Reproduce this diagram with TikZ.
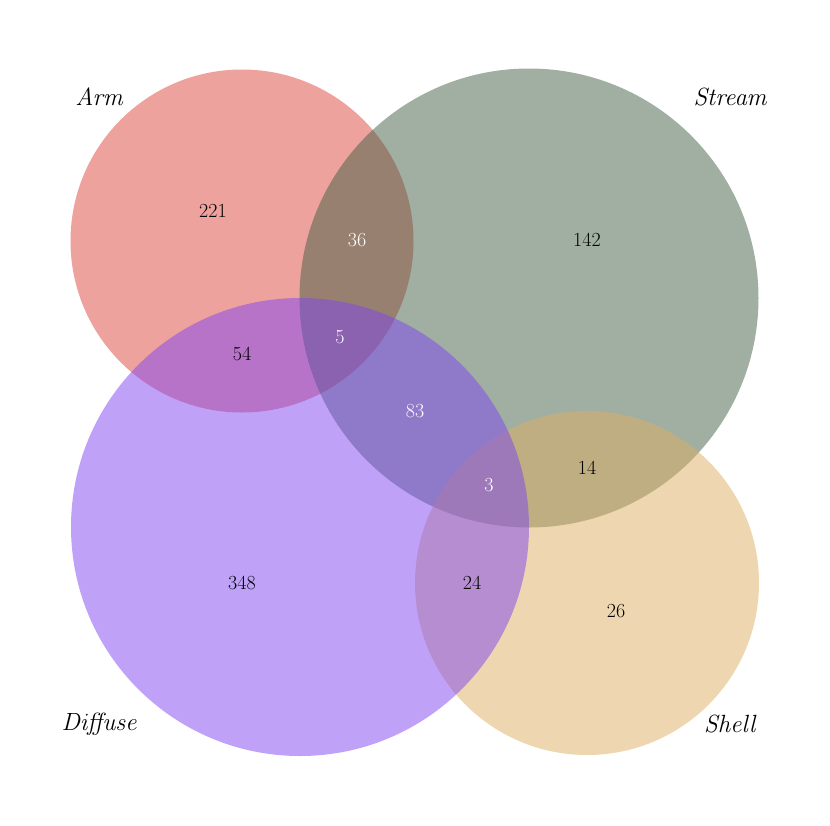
\documentclass[tikz,border=0pt]{standalone}
\usepackage{tikz}
\definecolor{armc}{RGB}{221,69,59}
\definecolor{streamc}{RGB}{65,95,69}
\definecolor{diffc}{RGB}{127,69,241}
\definecolor{shellc}{RGB}{221,175,97}
\begin{document}
\begin{tikzpicture}[x=1pt,y=-1pt,
  setc/.style={circle,fill opacity=0.5,draw=none,inner sep=0pt,minimum size=#1},
  num/.style={font=\fontsize{20}{24}\selectfont,text=black},
  wnum/.style={font=\fontsize{20}{24}\selectfont,text=white},
  lab/.style={font=\fontsize{23.5}{28}\selectfont}]
\useasboundingbox (0,0) rectangle (830,825);
\node[setc=343pt,fill=armc] (arm) at (242,241) {};
\node[setc=459pt,fill=streamc] (stream) at (529,298) {};
\node[setc=344pt,fill=shellc] (shell) at (587,583) {};
\node[setc=458pt,fill=diffc] (diffuse) at (300,527) {};
\node[lab] (larm) at (100,97) {$\mathit{Arm}$};
\node[lab] (lstream) at (731,97) {$\mathit{Stream}$};
\node[lab] (ldiff) at (100,724) {$\mathit{Diffuse}$};
\node[lab] (lshell) at (731,724) {$\mathit{Shell}$};
\node[num] (n221) at (213,211) {221};
\node[wnum] (n36) at (357,240) {36};
\node[num] (n142) at (587,240) {142};
\node[wnum] (n5) at (340,337) {5};
\node[num] (n54) at (242,354) {54};
\node[wnum] (n83) at (415,411) {83};
\node[num] (n14) at (587,468) {14};
\node[wnum] (n3) at (489,485) {3};
\node[num] (n348) at (242,583) {348};
\node[num] (n24) at (472,583) {24};
\node[num] (n26) at (616,611) {26};
\end{tikzpicture}
\end{document}
